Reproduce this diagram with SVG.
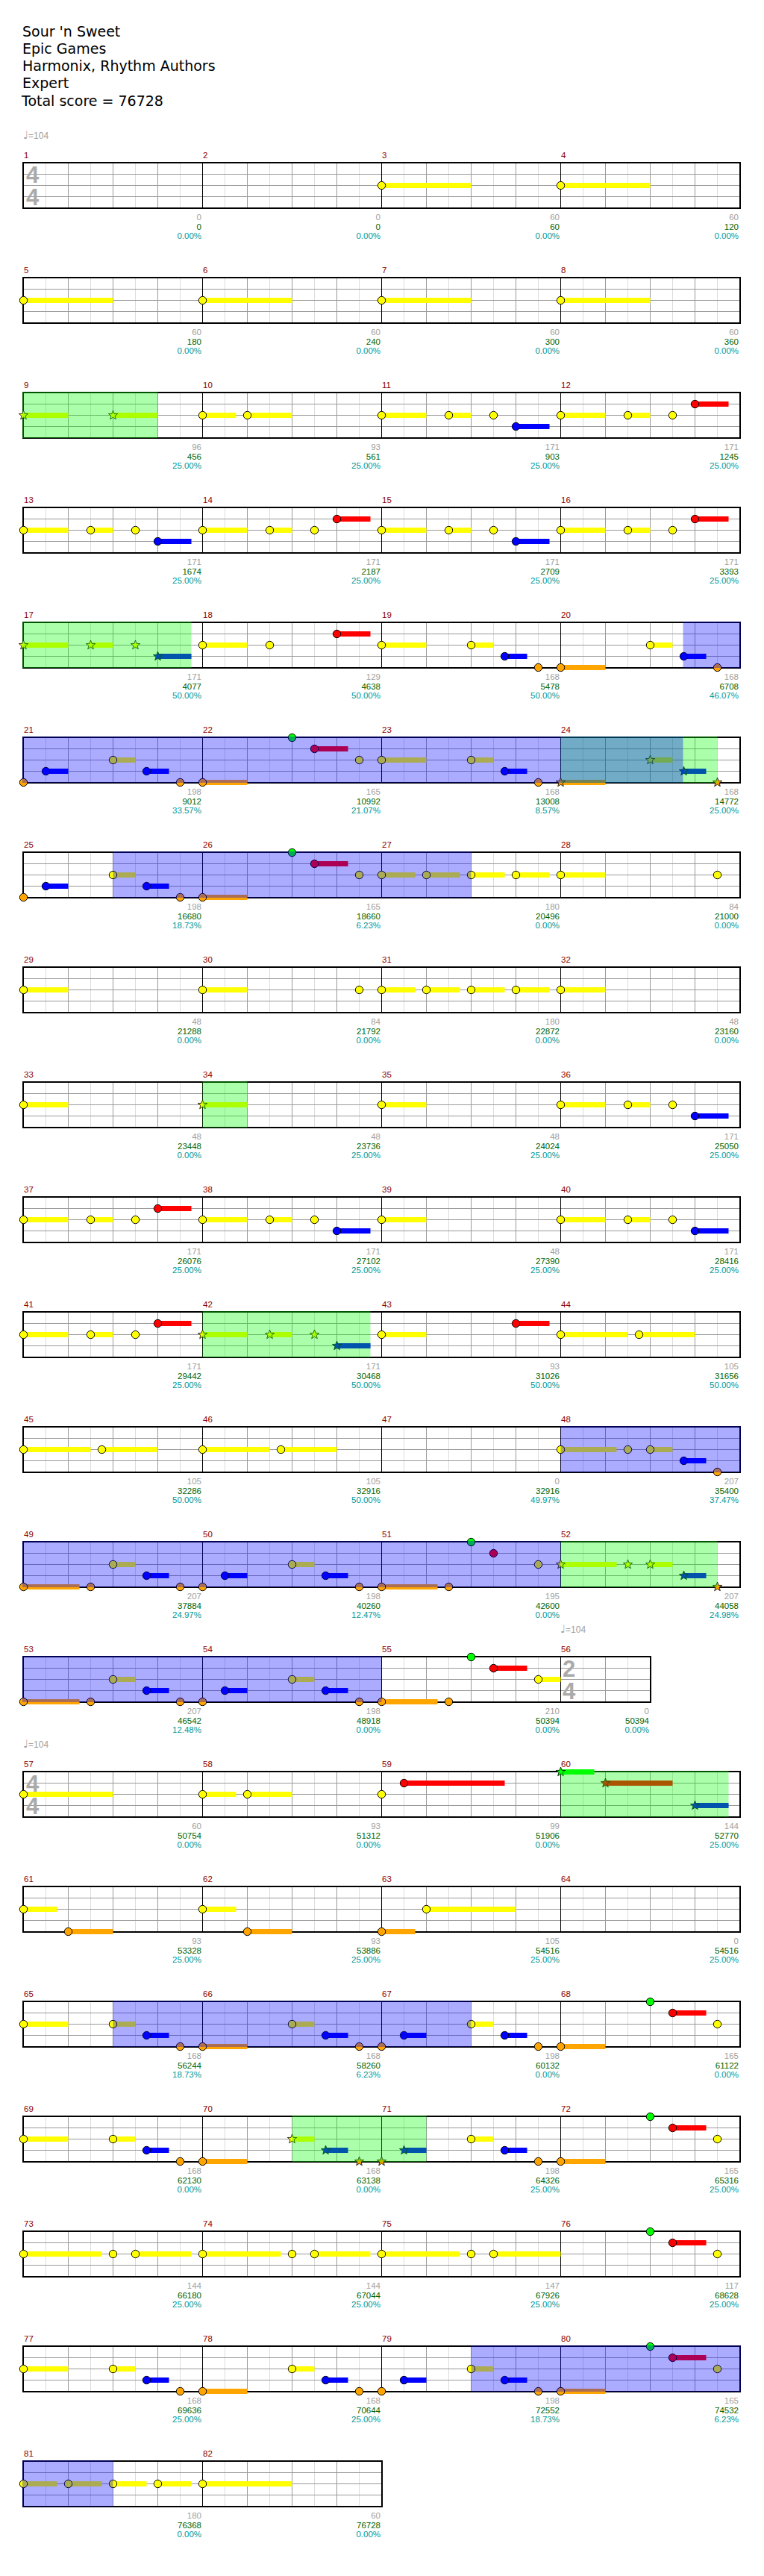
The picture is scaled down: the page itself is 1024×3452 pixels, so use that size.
<svg xmlns="http://www.w3.org/2000/svg" xmlns:xlink="http://www.w3.org/1999/xlink" width="1024" height="3452" viewBox="0 0 1024 3452">
<style>
.t{font-family:"DejaVu Sans",sans-serif;font-size:19px;fill:#000}
.mn{font-family:"Liberation Sans",Arial,sans-serif;font-size:11.5px;fill:#8b0000}
.l1,.l2,.l3{font-family:"Liberation Sans",Arial,sans-serif;font-size:11.5px;text-anchor:end}
.l1{fill:#a0a0a0}.l2{fill:#006400}.l3{fill:#009999}
.ts{font-family:"Liberation Sans",Arial,sans-serif;font-size:31px;font-weight:bold;fill:#aaa}
.tp{font-family:"Liberation Sans",Arial,sans-serif;font-size:12px;fill:#a0a0a0}
.lt{stroke:#dcdcdc;fill:none}.gr{stroke:#999;fill:none}.bk{stroke:#000;fill:none}
.bd{fill:none;stroke:#000;stroke-width:2}
.n{stroke:#000;stroke-width:1}
.y{fill:#ff0}.r{fill:#f00}.g{fill:#0f0}.b{fill:#00f}.o{fill:#ffa500}
.ov{fill:#00f;fill-opacity:0.33}.sp{fill:#0f0;fill-opacity:0.33}
</style>
<defs>
<g id="mg">
<path class="lt" d="M30,0.5V60.5M90,0.5V60.5M150,0.5V60.5M210,0.5V60.5"/>
<path class="gr" d="M60,0.5V60.5M120,0.5V60.5M180,0.5V60.5M0,15.5H240M0,30.5H240M0,45.5H240"/>
<path class="bk" d="M0,0.5V60.5"/>
</g>
<g id="hg">
<path class="lt" d="M30,0.5V60.5M90,0.5V60.5"/>
<path class="gr" d="M60,0.5V60.5M0,15.5H120M0,30.5H120M0,45.5H120"/>
<path class="bk" d="M0,0.5V60.5"/>
</g>
<g id="st4">
<use xlink:href="#mg" x="31.5"/><use xlink:href="#mg" x="271.5"/><use xlink:href="#mg" x="511.5"/><use xlink:href="#mg" x="751.5"/>
<rect class="bd" x="31" y="0" width="961" height="61"/>
</g>
<path id="star" stroke="#000" stroke-width="0.8" d="M0,-6.5L1.59,-2.18L6.18,-2.01L2.57,0.83L3.82,5.26L0,2.7L-3.82,5.26L-2.57,0.83L-6.18,-2.01L-1.59,-2.18Z"/>
</defs>
<rect x="0" y="0" width="1024" height="3452" fill="#fff"/>
<g id="title">
<text class="t" x="30" y="49">Sour 'n Sweet</text>
<text class="t" x="30" y="72">Epic Games</text>
<text class="t" x="30" y="95">Harmonix, Rhythm Authors</text>
<text class="t" x="30" y="118">Expert</text>
<text class="t" x="29" y="141.5">Total score = 76728</text>
</g>

<g id="row1" transform="translate(0,218)">
<text class="tp" x="31" y="-32"><tspan font-family="DejaVu Sans" font-size="15">♩</tspan>=104</text>
<text class="mn" x="32" y="-6.5">1</text><text class="mn" x="272" y="-6.5">2</text><text class="mn" x="512" y="-6.5">3</text><text class="mn" x="752" y="-6.5">4</text>
<use xlink:href="#st4"/>
<text class="ts" x="35" y="27">4</text><text class="ts" x="35" y="57">4</text>
<rect class="y" x="511.5" y="27" width="120" height="7"/><rect class="y" x="751.5" y="27" width="120" height="7"/>
<circle class="n y" cx="511.5" cy="30.5" r="5.2"/><circle class="n y" cx="751.5" cy="30.5" r="5.2"/>
<text class="l1" x="270" y="77">0</text><text class="l2" x="270" y="89.5">0</text><text class="l3" x="270" y="102">0.00%</text>
<text class="l1" x="510" y="77">0</text><text class="l2" x="510" y="89.5">0</text><text class="l3" x="510" y="102">0.00%</text>
<text class="l1" x="750" y="77">60</text><text class="l2" x="750" y="89.5">60</text><text class="l3" x="750" y="102">0.00%</text>
<text class="l1" x="990" y="77">60</text><text class="l2" x="990" y="89.5">120</text><text class="l3" x="990" y="102">0.00%</text>
</g>

<g id="row2" transform="translate(0,372)">
<text class="mn" x="32" y="-6.5">5</text><text class="mn" x="272" y="-6.5">6</text><text class="mn" x="512" y="-6.5">7</text><text class="mn" x="752" y="-6.5">8</text>
<use xlink:href="#st4"/>
<rect class="y" x="31.5" y="27" width="120" height="7"/><rect class="y" x="271.5" y="27" width="120" height="7"/><rect class="y" x="511.5" y="27" width="120" height="7"/><rect class="y" x="751.5" y="27" width="120" height="7"/>
<circle class="n y" cx="31.5" cy="30.5" r="5.2"/><circle class="n y" cx="271.5" cy="30.5" r="5.2"/><circle class="n y" cx="511.5" cy="30.5" r="5.2"/><circle class="n y" cx="751.5" cy="30.5" r="5.2"/>
<text class="l1" x="270" y="77">60</text><text class="l2" x="270" y="89.5">180</text><text class="l3" x="270" y="102">0.00%</text>
<text class="l1" x="510" y="77">60</text><text class="l2" x="510" y="89.5">240</text><text class="l3" x="510" y="102">0.00%</text>
<text class="l1" x="750" y="77">60</text><text class="l2" x="750" y="89.5">300</text><text class="l3" x="750" y="102">0.00%</text>
<text class="l1" x="990" y="77">60</text><text class="l2" x="990" y="89.5">360</text><text class="l3" x="990" y="102">0.00%</text>
</g>

<g id="row3" transform="translate(0,526)">
<text class="mn" x="32" y="-6.5">9</text><text class="mn" x="272" y="-6.5">10</text><text class="mn" x="512" y="-6.5">11</text><text class="mn" x="752" y="-6.5">12</text>
<use xlink:href="#st4"/>
<rect class="y" x="31.5" y="27" width="60" height="7"/><rect class="y" x="151.5" y="27" width="60" height="7"/>
<rect class="y" x="271.5" y="27" width="45" height="7"/><rect class="y" x="331.5" y="27" width="60" height="7"/>
<rect class="y" x="511.5" y="27" width="60" height="7"/><rect class="y" x="601.5" y="27" width="30" height="7"/><rect class="b" x="691.5" y="42" width="45" height="7"/>
<rect class="y" x="751.5" y="27" width="60" height="7"/><rect class="y" x="841.5" y="27" width="30" height="7"/><rect class="r" x="931.5" y="12" width="45" height="7"/>
<use xlink:href="#star" class="y" x="31.5" y="30.5"/><use xlink:href="#star" class="y" x="151.5" y="30.5"/>
<circle class="n y" cx="271.5" cy="30.5" r="5.2"/><circle class="n y" cx="331.5" cy="30.5" r="5.2"/>
<circle class="n y" cx="511.5" cy="30.5" r="5.2"/><circle class="n y" cx="601.5" cy="30.5" r="5.2"/><circle class="n y" cx="661.5" cy="30.5" r="5.2"/><circle class="n b" cx="691.5" cy="45.5" r="5.2"/>
<circle class="n y" cx="751.5" cy="30.5" r="5.2"/><circle class="n y" cx="841.5" cy="30.5" r="5.2"/><circle class="n y" cx="901.5" cy="30.5" r="5.2"/><circle class="n r" cx="931.5" cy="15.5" r="5.2"/>
<rect class="sp" x="30" y="-1" width="181.5" height="62"/>
<text class="l1" x="270" y="77">96</text><text class="l2" x="270" y="89.5">456</text><text class="l3" x="270" y="102">25.00%</text>
<text class="l1" x="510" y="77">93</text><text class="l2" x="510" y="89.5">561</text><text class="l3" x="510" y="102">25.00%</text>
<text class="l1" x="750" y="77">171</text><text class="l2" x="750" y="89.5">903</text><text class="l3" x="750" y="102">25.00%</text>
<text class="l1" x="990" y="77">171</text><text class="l2" x="990" y="89.5">1245</text><text class="l3" x="990" y="102">25.00%</text>
</g>

<g id="row4" transform="translate(0,680)">
<text class="mn" x="32" y="-6.5">13</text><text class="mn" x="272" y="-6.5">14</text><text class="mn" x="512" y="-6.5">15</text><text class="mn" x="752" y="-6.5">16</text>
<use xlink:href="#st4"/>
<rect class="y" x="31.5" y="27" width="60" height="7"/><rect class="y" x="121.5" y="27" width="30" height="7"/><rect class="b" x="211.5" y="42" width="45" height="7"/>
<rect class="y" x="271.5" y="27" width="60" height="7"/><rect class="y" x="361.5" y="27" width="30" height="7"/><rect class="r" x="451.5" y="12" width="45" height="7"/>
<rect class="y" x="511.5" y="27" width="60" height="7"/><rect class="y" x="601.5" y="27" width="30" height="7"/><rect class="b" x="691.5" y="42" width="45" height="7"/>
<rect class="y" x="751.5" y="27" width="60" height="7"/><rect class="y" x="841.5" y="27" width="30" height="7"/><rect class="r" x="931.5" y="12" width="45" height="7"/>
<circle class="n y" cx="31.5" cy="30.5" r="5.2"/><circle class="n y" cx="121.5" cy="30.5" r="5.2"/><circle class="n y" cx="181.5" cy="30.5" r="5.2"/><circle class="n b" cx="211.5" cy="45.5" r="5.2"/>
<circle class="n y" cx="271.5" cy="30.5" r="5.2"/><circle class="n y" cx="361.5" cy="30.5" r="5.2"/><circle class="n y" cx="421.5" cy="30.5" r="5.2"/><circle class="n r" cx="451.5" cy="15.5" r="5.2"/>
<circle class="n y" cx="511.5" cy="30.5" r="5.2"/><circle class="n y" cx="601.5" cy="30.5" r="5.2"/><circle class="n y" cx="661.5" cy="30.5" r="5.2"/><circle class="n b" cx="691.5" cy="45.5" r="5.2"/>
<circle class="n y" cx="751.5" cy="30.5" r="5.2"/><circle class="n y" cx="841.5" cy="30.5" r="5.2"/><circle class="n y" cx="901.5" cy="30.5" r="5.2"/><circle class="n r" cx="931.5" cy="15.5" r="5.2"/>
<text class="l1" x="270" y="77">171</text><text class="l2" x="270" y="89.5">1674</text><text class="l3" x="270" y="102">25.00%</text>
<text class="l1" x="510" y="77">171</text><text class="l2" x="510" y="89.5">2187</text><text class="l3" x="510" y="102">25.00%</text>
<text class="l1" x="750" y="77">171</text><text class="l2" x="750" y="89.5">2709</text><text class="l3" x="750" y="102">25.00%</text>
<text class="l1" x="990" y="77">171</text><text class="l2" x="990" y="89.5">3393</text><text class="l3" x="990" y="102">25.00%</text>
</g>

<g id="row5" transform="translate(0,834)">
<text class="mn" x="32" y="-6.5">17</text><text class="mn" x="272" y="-6.5">18</text><text class="mn" x="512" y="-6.5">19</text><text class="mn" x="752" y="-6.5">20</text>
<use xlink:href="#st4"/>
<rect class="y" x="31.5" y="27" width="60" height="7"/><rect class="y" x="121.5" y="27" width="30" height="7"/><rect class="b" x="211.5" y="42" width="45" height="7"/>
<rect class="y" x="271.5" y="27" width="60" height="7"/><rect class="r" x="451.5" y="12" width="45" height="7"/>
<rect class="y" x="511.5" y="27" width="60" height="7"/><rect class="y" x="631.5" y="27" width="30" height="7"/><rect class="b" x="676.5" y="42" width="30" height="7"/>
<rect class="o" x="751.5" y="57" width="60" height="7"/><rect class="y" x="871.5" y="27" width="30" height="7"/><rect class="b" x="916.5" y="42" width="30" height="7"/>
<use xlink:href="#star" class="y" x="31.5" y="30.5"/><use xlink:href="#star" class="y" x="121.5" y="30.5"/><use xlink:href="#star" class="y" x="181.5" y="30.5"/><use xlink:href="#star" class="b" x="211.5" y="45.5"/>
<circle class="n y" cx="271.5" cy="30.5" r="5.2"/><circle class="n y" cx="361.5" cy="30.5" r="5.2"/><circle class="n r" cx="451.5" cy="15.5" r="5.2"/>
<circle class="n y" cx="511.5" cy="30.5" r="5.2"/><circle class="n y" cx="631.5" cy="30.5" r="5.2"/><circle class="n b" cx="676.5" cy="45.5" r="5.2"/><circle class="n o" cx="721.5" cy="60.5" r="5.2"/>
<circle class="n o" cx="751.5" cy="60.5" r="5.2"/><circle class="n y" cx="871.5" cy="30.5" r="5.2"/><circle class="n b" cx="916.5" cy="45.5" r="5.2"/><circle class="n o" cx="961.5" cy="60.5" r="5.2"/>
<rect class="sp" x="30" y="-1" width="226.5" height="62"/>
<rect class="ov" x="915.5" y="-1" width="77.5" height="62"/>
<text class="l1" x="270" y="77">171</text><text class="l2" x="270" y="89.5">4077</text><text class="l3" x="270" y="102">50.00%</text>
<text class="l1" x="510" y="77">129</text><text class="l2" x="510" y="89.5">4638</text><text class="l3" x="510" y="102">50.00%</text>
<text class="l1" x="750" y="77">168</text><text class="l2" x="750" y="89.5">5478</text><text class="l3" x="750" y="102">50.00%</text>
<text class="l1" x="990" y="77">168</text><text class="l2" x="990" y="89.5">6708</text><text class="l3" x="990" y="102">46.07%</text>
</g>

<g id="row6" transform="translate(0,988)">
<text class="mn" x="32" y="-6.5">21</text><text class="mn" x="272" y="-6.5">22</text><text class="mn" x="512" y="-6.5">23</text><text class="mn" x="752" y="-6.5">24</text>
<use xlink:href="#st4"/>
<rect class="b" x="61.5" y="42" width="30" height="7"/><rect class="y" x="151.5" y="27" width="30" height="7"/><rect class="b" x="196.5" y="42" width="30" height="7"/>
<rect class="o" x="271.5" y="57" width="60" height="7"/><rect class="r" x="421.5" y="12" width="45" height="7"/>
<rect class="y" x="511.5" y="27" width="60" height="7"/><rect class="y" x="631.5" y="27" width="30" height="7"/><rect class="b" x="676.5" y="42" width="30" height="7"/>
<rect class="o" x="751.5" y="57" width="60" height="7"/><rect class="y" x="871.5" y="27" width="30" height="7"/><rect class="b" x="916.5" y="42" width="30" height="7"/>
<circle class="n o" cx="31.5" cy="60.5" r="5.2"/><circle class="n b" cx="61.5" cy="45.5" r="5.2"/><circle class="n y" cx="151.5" cy="30.5" r="5.2"/><circle class="n b" cx="196.5" cy="45.5" r="5.2"/><circle class="n o" cx="241.5" cy="60.5" r="5.2"/>
<circle class="n o" cx="271.5" cy="60.5" r="5.2"/><circle class="n g" cx="391.5" cy="0.5" r="5.2"/><circle class="n r" cx="421.5" cy="15.5" r="5.2"/><circle class="n y" cx="481.5" cy="30.5" r="5.2"/>
<circle class="n y" cx="511.5" cy="30.5" r="5.2"/><circle class="n y" cx="631.5" cy="30.5" r="5.2"/><circle class="n b" cx="676.5" cy="45.5" r="5.2"/><circle class="n o" cx="721.5" cy="60.5" r="5.2"/>
<use xlink:href="#star" class="o" x="751.5" y="60.5"/><use xlink:href="#star" class="y" x="871.5" y="30.5"/><use xlink:href="#star" class="b" x="916.5" y="45.5"/><use xlink:href="#star" class="o" x="961.5" y="60.5"/>
<rect class="sp" x="751.5" y="-1" width="210" height="62"/>
<rect class="ov" x="30" y="-1" width="885.5" height="62"/>
<text class="l1" x="270" y="77">198</text><text class="l2" x="270" y="89.5">9012</text><text class="l3" x="270" y="102">33.57%</text>
<text class="l1" x="510" y="77">165</text><text class="l2" x="510" y="89.5">10992</text><text class="l3" x="510" y="102">21.07%</text>
<text class="l1" x="750" y="77">168</text><text class="l2" x="750" y="89.5">13008</text><text class="l3" x="750" y="102">8.57%</text>
<text class="l1" x="990" y="77">168</text><text class="l2" x="990" y="89.5">14772</text><text class="l3" x="990" y="102">25.00%</text>
</g>

<g id="row7" transform="translate(0,1142)">
<text class="mn" x="32" y="-6.5">25</text><text class="mn" x="272" y="-6.5">26</text><text class="mn" x="512" y="-6.5">27</text><text class="mn" x="752" y="-6.5">28</text>
<use xlink:href="#st4"/>
<rect class="b" x="61.5" y="42" width="30" height="7"/><rect class="y" x="151.5" y="27" width="30" height="7"/><rect class="b" x="196.5" y="42" width="30" height="7"/>
<rect class="o" x="271.5" y="57" width="60" height="7"/><rect class="r" x="421.5" y="12" width="45" height="7"/>
<rect class="y" x="511.5" y="27" width="45" height="7"/><rect class="y" x="571.5" y="27" width="45" height="7"/><rect class="y" x="631.5" y="27" width="45" height="7"/><rect class="y" x="691.5" y="27" width="45" height="7"/>
<rect class="y" x="751.5" y="27" width="60" height="7"/>
<circle class="n o" cx="31.5" cy="60.5" r="5.2"/><circle class="n b" cx="61.5" cy="45.5" r="5.2"/><circle class="n y" cx="151.5" cy="30.5" r="5.2"/><circle class="n b" cx="196.5" cy="45.5" r="5.2"/><circle class="n o" cx="241.5" cy="60.5" r="5.2"/>
<circle class="n o" cx="271.5" cy="60.5" r="5.2"/><circle class="n g" cx="391.5" cy="0.5" r="5.2"/><circle class="n r" cx="421.5" cy="15.5" r="5.2"/><circle class="n y" cx="481.5" cy="30.5" r="5.2"/>
<circle class="n y" cx="511.5" cy="30.5" r="5.2"/><circle class="n y" cx="571.5" cy="30.5" r="5.2"/><circle class="n y" cx="631.5" cy="30.5" r="5.2"/><circle class="n y" cx="691.5" cy="30.5" r="5.2"/>
<circle class="n y" cx="751.5" cy="30.5" r="5.2"/><circle class="n y" cx="961.5" cy="30.5" r="5.2"/>
<rect class="ov" x="151.5" y="-1" width="480" height="62"/>
<text class="l1" x="270" y="77">198</text><text class="l2" x="270" y="89.5">16680</text><text class="l3" x="270" y="102">18.73%</text>
<text class="l1" x="510" y="77">165</text><text class="l2" x="510" y="89.5">18660</text><text class="l3" x="510" y="102">6.23%</text>
<text class="l1" x="750" y="77">180</text><text class="l2" x="750" y="89.5">20496</text><text class="l3" x="750" y="102">0.00%</text>
<text class="l1" x="990" y="77">84</text><text class="l2" x="990" y="89.5">21000</text><text class="l3" x="990" y="102">0.00%</text>
</g>

<g id="row8" transform="translate(0,1296)">
<text class="mn" x="32" y="-6.5">29</text><text class="mn" x="272" y="-6.5">30</text><text class="mn" x="512" y="-6.5">31</text><text class="mn" x="752" y="-6.5">32</text>
<use xlink:href="#st4"/>
<rect class="y" x="31.5" y="27" width="60" height="7"/><rect class="y" x="271.5" y="27" width="60" height="7"/>
<rect class="y" x="511.5" y="27" width="45" height="7"/><rect class="y" x="571.5" y="27" width="45" height="7"/><rect class="y" x="631.5" y="27" width="45" height="7"/><rect class="y" x="691.5" y="27" width="45" height="7"/><rect class="y" x="751.5" y="27" width="60" height="7"/>
<circle class="n y" cx="31.5" cy="30.5" r="5.2"/><circle class="n y" cx="271.5" cy="30.5" r="5.2"/><circle class="n y" cx="481.5" cy="30.5" r="5.2"/>
<circle class="n y" cx="511.5" cy="30.5" r="5.2"/><circle class="n y" cx="571.5" cy="30.5" r="5.2"/><circle class="n y" cx="631.5" cy="30.5" r="5.2"/><circle class="n y" cx="691.5" cy="30.5" r="5.2"/><circle class="n y" cx="751.5" cy="30.5" r="5.2"/>
<text class="l1" x="270" y="77">48</text><text class="l2" x="270" y="89.5">21288</text><text class="l3" x="270" y="102">0.00%</text>
<text class="l1" x="510" y="77">84</text><text class="l2" x="510" y="89.5">21792</text><text class="l3" x="510" y="102">0.00%</text>
<text class="l1" x="750" y="77">180</text><text class="l2" x="750" y="89.5">22872</text><text class="l3" x="750" y="102">0.00%</text>
<text class="l1" x="990" y="77">48</text><text class="l2" x="990" y="89.5">23160</text><text class="l3" x="990" y="102">0.00%</text>
</g>

<g id="row9" transform="translate(0,1450)">
<text class="mn" x="32" y="-6.5">33</text><text class="mn" x="272" y="-6.5">34</text><text class="mn" x="512" y="-6.5">35</text><text class="mn" x="752" y="-6.5">36</text>
<use xlink:href="#st4"/>
<rect class="y" x="31.5" y="27" width="60" height="7"/><rect class="y" x="271.5" y="27" width="60" height="7"/><rect class="y" x="511.5" y="27" width="60" height="7"/>
<rect class="y" x="751.5" y="27" width="60" height="7"/><rect class="y" x="841.5" y="27" width="30" height="7"/><rect class="b" x="931.5" y="42" width="45" height="7"/>
<circle class="n y" cx="31.5" cy="30.5" r="5.2"/><use xlink:href="#star" class="y" x="271.5" y="30.5"/><circle class="n y" cx="511.5" cy="30.5" r="5.2"/>
<circle class="n y" cx="751.5" cy="30.5" r="5.2"/><circle class="n y" cx="841.5" cy="30.5" r="5.2"/><circle class="n y" cx="901.5" cy="30.5" r="5.2"/><circle class="n b" cx="931.5" cy="45.5" r="5.2"/>
<rect class="sp" x="271.5" y="-1" width="60" height="62"/>
<text class="l1" x="270" y="77">48</text><text class="l2" x="270" y="89.5">23448</text><text class="l3" x="270" y="102">0.00%</text>
<text class="l1" x="510" y="77">48</text><text class="l2" x="510" y="89.5">23736</text><text class="l3" x="510" y="102">25.00%</text>
<text class="l1" x="750" y="77">48</text><text class="l2" x="750" y="89.5">24024</text><text class="l3" x="750" y="102">25.00%</text>
<text class="l1" x="990" y="77">171</text><text class="l2" x="990" y="89.5">25050</text><text class="l3" x="990" y="102">25.00%</text>
</g>

<g id="row10" transform="translate(0,1604)">
<text class="mn" x="32" y="-6.5">37</text><text class="mn" x="272" y="-6.5">38</text><text class="mn" x="512" y="-6.5">39</text><text class="mn" x="752" y="-6.5">40</text>
<use xlink:href="#st4"/>
<rect class="y" x="31.5" y="27" width="60" height="7"/><rect class="y" x="121.5" y="27" width="30" height="7"/><rect class="r" x="211.5" y="12" width="45" height="7"/>
<rect class="y" x="271.5" y="27" width="60" height="7"/><rect class="y" x="361.5" y="27" width="30" height="7"/><rect class="b" x="451.5" y="42" width="45" height="7"/>
<rect class="y" x="511.5" y="27" width="60" height="7"/>
<rect class="y" x="751.5" y="27" width="60" height="7"/><rect class="y" x="841.5" y="27" width="30" height="7"/><rect class="b" x="931.5" y="42" width="45" height="7"/>
<circle class="n y" cx="31.5" cy="30.5" r="5.2"/><circle class="n y" cx="121.5" cy="30.5" r="5.2"/><circle class="n y" cx="181.5" cy="30.5" r="5.2"/><circle class="n r" cx="211.5" cy="15.5" r="5.2"/>
<circle class="n y" cx="271.5" cy="30.5" r="5.2"/><circle class="n y" cx="361.5" cy="30.5" r="5.2"/><circle class="n y" cx="421.5" cy="30.5" r="5.2"/><circle class="n b" cx="451.5" cy="45.5" r="5.2"/>
<circle class="n y" cx="511.5" cy="30.5" r="5.2"/>
<circle class="n y" cx="751.5" cy="30.5" r="5.2"/><circle class="n y" cx="841.5" cy="30.5" r="5.2"/><circle class="n y" cx="901.5" cy="30.5" r="5.2"/><circle class="n b" cx="931.5" cy="45.5" r="5.2"/>
<text class="l1" x="270" y="77">171</text><text class="l2" x="270" y="89.5">26076</text><text class="l3" x="270" y="102">25.00%</text>
<text class="l1" x="510" y="77">171</text><text class="l2" x="510" y="89.5">27102</text><text class="l3" x="510" y="102">25.00%</text>
<text class="l1" x="750" y="77">48</text><text class="l2" x="750" y="89.5">27390</text><text class="l3" x="750" y="102">25.00%</text>
<text class="l1" x="990" y="77">171</text><text class="l2" x="990" y="89.5">28416</text><text class="l3" x="990" y="102">25.00%</text>
</g>

<g id="row11" transform="translate(0,1758)">
<text class="mn" x="32" y="-6.5">41</text><text class="mn" x="272" y="-6.5">42</text><text class="mn" x="512" y="-6.5">43</text><text class="mn" x="752" y="-6.5">44</text>
<use xlink:href="#st4"/>
<rect class="y" x="31.5" y="27" width="60" height="7"/><rect class="y" x="121.5" y="27" width="30" height="7"/><rect class="r" x="211.5" y="12" width="45" height="7"/>
<rect class="y" x="271.5" y="27" width="60" height="7"/><rect class="y" x="361.5" y="27" width="30" height="7"/><rect class="b" x="451.5" y="42" width="45" height="7"/>
<rect class="y" x="511.5" y="27" width="60" height="7"/><rect class="r" x="691.5" y="12" width="45" height="7"/>
<rect class="y" x="751.5" y="27" width="90" height="7"/><rect class="y" x="856.5" y="27" width="75" height="7"/>
<circle class="n y" cx="31.5" cy="30.5" r="5.2"/><circle class="n y" cx="121.5" cy="30.5" r="5.2"/><circle class="n y" cx="181.5" cy="30.5" r="5.2"/><circle class="n r" cx="211.5" cy="15.5" r="5.2"/>
<use xlink:href="#star" class="y" x="271.5" y="30.5"/><use xlink:href="#star" class="y" x="361.5" y="30.5"/><use xlink:href="#star" class="y" x="421.5" y="30.5"/><use xlink:href="#star" class="b" x="451.5" y="45.5"/>
<circle class="n y" cx="511.5" cy="30.5" r="5.2"/><circle class="n r" cx="691.5" cy="15.5" r="5.2"/>
<circle class="n y" cx="751.5" cy="30.5" r="5.2"/><circle class="n y" cx="856.5" cy="30.5" r="5.2"/>
<rect class="sp" x="271.5" y="-1" width="225" height="62"/>
<text class="l1" x="270" y="77">171</text><text class="l2" x="270" y="89.5">29442</text><text class="l3" x="270" y="102">25.00%</text>
<text class="l1" x="510" y="77">171</text><text class="l2" x="510" y="89.5">30468</text><text class="l3" x="510" y="102">50.00%</text>
<text class="l1" x="750" y="77">93</text><text class="l2" x="750" y="89.5">31026</text><text class="l3" x="750" y="102">50.00%</text>
<text class="l1" x="990" y="77">105</text><text class="l2" x="990" y="89.5">31656</text><text class="l3" x="990" y="102">50.00%</text>
</g>

<g id="row12" transform="translate(0,1912)">
<text class="mn" x="32" y="-6.5">45</text><text class="mn" x="272" y="-6.5">46</text><text class="mn" x="512" y="-6.5">47</text><text class="mn" x="752" y="-6.5">48</text>
<use xlink:href="#st4"/>
<rect class="y" x="31.5" y="27" width="90" height="7"/><rect class="y" x="136.5" y="27" width="75" height="7"/>
<rect class="y" x="271.5" y="27" width="90" height="7"/><rect class="y" x="376.5" y="27" width="75" height="7"/>
<rect class="y" x="751.5" y="27" width="75" height="7"/><rect class="y" x="871.5" y="27" width="30" height="7"/><rect class="b" x="916.5" y="42" width="30" height="7"/>
<circle class="n y" cx="31.5" cy="30.5" r="5.2"/><circle class="n y" cx="136.5" cy="30.5" r="5.2"/>
<circle class="n y" cx="271.5" cy="30.5" r="5.2"/><circle class="n y" cx="376.5" cy="30.5" r="5.2"/>
<circle class="n y" cx="751.5" cy="30.5" r="5.2"/><circle class="n y" cx="841.5" cy="30.5" r="5.2"/><circle class="n y" cx="871.5" cy="30.5" r="5.2"/><circle class="n b" cx="916.5" cy="45.5" r="5.2"/><circle class="n o" cx="961.5" cy="60.5" r="5.2"/>
<rect class="ov" x="751.5" y="-1" width="241.5" height="62"/>
<text class="l1" x="270" y="77">105</text><text class="l2" x="270" y="89.5">32286</text><text class="l3" x="270" y="102">50.00%</text>
<text class="l1" x="510" y="77">105</text><text class="l2" x="510" y="89.5">32916</text><text class="l3" x="510" y="102">50.00%</text>
<text class="l1" x="750" y="77">0</text><text class="l2" x="750" y="89.5">32916</text><text class="l3" x="750" y="102">49.97%</text>
<text class="l1" x="990" y="77">207</text><text class="l2" x="990" y="89.5">35400</text><text class="l3" x="990" y="102">37.47%</text>
</g>

<g id="row13" transform="translate(0,2066)">
<text class="mn" x="32" y="-6.5">49</text><text class="mn" x="272" y="-6.5">50</text><text class="mn" x="512" y="-6.5">51</text><text class="mn" x="752" y="-6.5">52</text>
<use xlink:href="#st4"/>
<rect class="o" x="31.5" y="57" width="75" height="7"/><rect class="y" x="151.5" y="27" width="30" height="7"/><rect class="b" x="196.5" y="42" width="30" height="7"/>
<rect class="b" x="301.5" y="42" width="30" height="7"/><rect class="y" x="391.5" y="27" width="30" height="7"/><rect class="b" x="436.5" y="42" width="30" height="7"/>
<rect class="o" x="511.5" y="57" width="75" height="7"/>
<rect class="y" x="751.5" y="27" width="75" height="7"/><rect class="y" x="871.5" y="27" width="30" height="7"/><rect class="b" x="916.5" y="42" width="30" height="7"/>
<circle class="n o" cx="31.5" cy="60.5" r="5.2"/><circle class="n o" cx="121.5" cy="60.5" r="5.2"/><circle class="n y" cx="151.5" cy="30.5" r="5.2"/><circle class="n b" cx="196.5" cy="45.5" r="5.2"/><circle class="n o" cx="241.5" cy="60.5" r="5.2"/>
<circle class="n o" cx="271.5" cy="60.5" r="5.2"/><circle class="n b" cx="301.5" cy="45.5" r="5.2"/><circle class="n y" cx="391.5" cy="30.5" r="5.2"/><circle class="n b" cx="436.5" cy="45.5" r="5.2"/><circle class="n o" cx="481.5" cy="60.5" r="5.2"/>
<circle class="n o" cx="511.5" cy="60.5" r="5.2"/><circle class="n o" cx="601.5" cy="60.5" r="5.2"/><circle class="n g" cx="631.5" cy="0.5" r="5.2"/><circle class="n r" cx="661.5" cy="15.5" r="5.2"/><circle class="n y" cx="721.5" cy="30.5" r="5.2"/>
<use xlink:href="#star" class="y" x="751.5" y="30.5"/><use xlink:href="#star" class="y" x="841.5" y="30.5"/><use xlink:href="#star" class="y" x="871.5" y="30.5"/><use xlink:href="#star" class="b" x="916.5" y="45.5"/><use xlink:href="#star" class="o" x="961.5" y="60.5"/>
<rect class="sp" x="751.5" y="-1" width="210" height="62"/>
<rect class="ov" x="30" y="-1" width="721.5" height="62"/>
<text class="l1" x="270" y="77">207</text><text class="l2" x="270" y="89.5">37884</text><text class="l3" x="270" y="102">24.97%</text>
<text class="l1" x="510" y="77">198</text><text class="l2" x="510" y="89.5">40260</text><text class="l3" x="510" y="102">12.47%</text>
<text class="l1" x="750" y="77">195</text><text class="l2" x="750" y="89.5">42600</text><text class="l3" x="750" y="102">0.00%</text>
<text class="l1" x="990" y="77">207</text><text class="l2" x="990" y="89.5">44058</text><text class="l3" x="990" y="102">24.98%</text>
</g>

<g id="row14" transform="translate(0,2220)">
<text class="tp" x="751" y="-32"><tspan font-family="DejaVu Sans" font-size="15">♩</tspan>=104</text>
<text class="mn" x="32" y="-6.5">53</text><text class="mn" x="272" y="-6.5">54</text><text class="mn" x="512" y="-6.5">55</text><text class="mn" x="752" y="-6.5">56</text>
<use xlink:href="#mg" x="31.5"/><use xlink:href="#mg" x="271.5"/><use xlink:href="#mg" x="511.5"/><use xlink:href="#hg" x="751.5"/>
<rect class="bd" x="31" y="0" width="841" height="61"/>
<text class="ts" x="754" y="27">2</text><text class="ts" x="754" y="57">4</text>
<rect class="o" x="31.5" y="57" width="75" height="7"/><rect class="y" x="151.5" y="27" width="30" height="7"/><rect class="b" x="196.5" y="42" width="30" height="7"/>
<rect class="b" x="301.5" y="42" width="30" height="7"/><rect class="y" x="391.5" y="27" width="30" height="7"/><rect class="b" x="436.5" y="42" width="30" height="7"/>
<rect class="o" x="511.5" y="57" width="75" height="7"/><rect class="r" x="661.5" y="12" width="45" height="7"/><rect class="y" x="721.5" y="27" width="30" height="7"/>
<circle class="n o" cx="31.5" cy="60.5" r="5.2"/><circle class="n o" cx="121.5" cy="60.5" r="5.2"/><circle class="n y" cx="151.5" cy="30.5" r="5.2"/><circle class="n b" cx="196.5" cy="45.5" r="5.2"/><circle class="n o" cx="241.5" cy="60.5" r="5.2"/>
<circle class="n o" cx="271.5" cy="60.5" r="5.2"/><circle class="n b" cx="301.5" cy="45.5" r="5.2"/><circle class="n y" cx="391.5" cy="30.5" r="5.2"/><circle class="n b" cx="436.5" cy="45.5" r="5.2"/><circle class="n o" cx="481.5" cy="60.5" r="5.2"/>
<circle class="n o" cx="511.5" cy="60.5" r="5.2"/><circle class="n o" cx="601.5" cy="60.5" r="5.2"/><circle class="n g" cx="631.5" cy="0.5" r="5.2"/><circle class="n r" cx="661.5" cy="15.5" r="5.2"/><circle class="n y" cx="721.5" cy="30.5" r="5.2"/>
<rect class="ov" x="30" y="-1" width="481.5" height="62"/>
<text class="l1" x="270" y="77">207</text><text class="l2" x="270" y="89.5">46542</text><text class="l3" x="270" y="102">12.48%</text>
<text class="l1" x="510" y="77">198</text><text class="l2" x="510" y="89.5">48918</text><text class="l3" x="510" y="102">0.00%</text>
<text class="l1" x="750" y="77">210</text><text class="l2" x="750" y="89.5">50394</text><text class="l3" x="750" y="102">0.00%</text>
<text class="l1" x="870" y="77">0</text><text class="l2" x="870" y="89.5">50394</text><text class="l3" x="870" y="102">0.00%</text>
</g>

<g id="row15" transform="translate(0,2374)">
<text class="tp" x="31" y="-32"><tspan font-family="DejaVu Sans" font-size="15">♩</tspan>=104</text>
<text class="mn" x="32" y="-6.5">57</text><text class="mn" x="272" y="-6.5">58</text><text class="mn" x="512" y="-6.5">59</text><text class="mn" x="752" y="-6.5">60</text>
<use xlink:href="#st4"/>
<text class="ts" x="35" y="27">4</text><text class="ts" x="35" y="57">4</text>
<rect class="y" x="31.5" y="27" width="120" height="7"/><rect class="y" x="271.5" y="27" width="45" height="7"/><rect class="y" x="331.5" y="27" width="60" height="7"/>
<rect class="r" x="541.5" y="12" width="135" height="7"/>
<rect class="g" x="751.5" y="-3" width="45" height="7"/><rect class="r" x="811.5" y="12" width="90" height="7"/><rect class="b" x="931.5" y="42" width="45" height="7"/>
<circle class="n y" cx="31.5" cy="30.5" r="5.2"/><circle class="n y" cx="271.5" cy="30.5" r="5.2"/><circle class="n y" cx="331.5" cy="30.5" r="5.2"/>
<circle class="n y" cx="511.5" cy="30.5" r="5.2"/><circle class="n r" cx="541.5" cy="15.5" r="5.2"/>
<use xlink:href="#star" class="g" x="751.5" y="0.5"/><use xlink:href="#star" class="r" x="811.5" y="15.5"/><use xlink:href="#star" class="b" x="931.5" y="45.5"/>
<rect class="sp" x="751.5" y="-1" width="225" height="62"/>
<text class="l1" x="270" y="77">60</text><text class="l2" x="270" y="89.5">50754</text><text class="l3" x="270" y="102">0.00%</text>
<text class="l1" x="510" y="77">93</text><text class="l2" x="510" y="89.5">51312</text><text class="l3" x="510" y="102">0.00%</text>
<text class="l1" x="750" y="77">99</text><text class="l2" x="750" y="89.5">51906</text><text class="l3" x="750" y="102">0.00%</text>
<text class="l1" x="990" y="77">144</text><text class="l2" x="990" y="89.5">52770</text><text class="l3" x="990" y="102">25.00%</text>
</g>

<g id="row16" transform="translate(0,2528)">
<text class="mn" x="32" y="-6.5">61</text><text class="mn" x="272" y="-6.5">62</text><text class="mn" x="512" y="-6.5">63</text><text class="mn" x="752" y="-6.5">64</text>
<use xlink:href="#st4"/>
<rect class="y" x="31.5" y="27" width="45" height="7"/><rect class="o" x="91.5" y="57" width="60" height="7"/>
<rect class="y" x="271.5" y="27" width="45" height="7"/><rect class="o" x="331.5" y="57" width="60" height="7"/>
<rect class="o" x="511.5" y="57" width="45" height="7"/><rect class="y" x="571.5" y="27" width="120" height="7"/>
<circle class="n y" cx="31.5" cy="30.5" r="5.2"/><circle class="n o" cx="91.5" cy="60.5" r="5.2"/>
<circle class="n y" cx="271.5" cy="30.5" r="5.2"/><circle class="n o" cx="331.5" cy="60.5" r="5.2"/>
<circle class="n o" cx="511.5" cy="60.5" r="5.2"/><circle class="n y" cx="571.5" cy="30.5" r="5.2"/>
<text class="l1" x="270" y="77">93</text><text class="l2" x="270" y="89.5">53328</text><text class="l3" x="270" y="102">25.00%</text>
<text class="l1" x="510" y="77">93</text><text class="l2" x="510" y="89.5">53886</text><text class="l3" x="510" y="102">25.00%</text>
<text class="l1" x="750" y="77">105</text><text class="l2" x="750" y="89.5">54516</text><text class="l3" x="750" y="102">25.00%</text>
<text class="l1" x="990" y="77">0</text><text class="l2" x="990" y="89.5">54516</text><text class="l3" x="990" y="102">25.00%</text>
</g>

<g id="row17" transform="translate(0,2682)">
<text class="mn" x="32" y="-6.5">65</text><text class="mn" x="272" y="-6.5">66</text><text class="mn" x="512" y="-6.5">67</text><text class="mn" x="752" y="-6.5">68</text>
<use xlink:href="#st4"/>
<rect class="y" x="31.5" y="27" width="60" height="7"/><rect class="y" x="151.5" y="27" width="30" height="7"/><rect class="b" x="196.5" y="42" width="30" height="7"/>
<rect class="o" x="271.5" y="57" width="60" height="7"/><rect class="y" x="391.5" y="27" width="30" height="7"/><rect class="b" x="436.5" y="42" width="30" height="7"/>
<rect class="b" x="541.5" y="42" width="30" height="7"/><rect class="y" x="631.5" y="27" width="30" height="7"/><rect class="b" x="676.5" y="42" width="30" height="7"/>
<rect class="o" x="751.5" y="57" width="60" height="7"/><rect class="r" x="901.5" y="12" width="45" height="7"/>
<circle class="n y" cx="31.5" cy="30.5" r="5.2"/><circle class="n y" cx="151.5" cy="30.5" r="5.2"/><circle class="n b" cx="196.5" cy="45.5" r="5.2"/><circle class="n o" cx="241.5" cy="60.5" r="5.2"/>
<circle class="n o" cx="271.5" cy="60.5" r="5.2"/><circle class="n y" cx="391.5" cy="30.5" r="5.2"/><circle class="n b" cx="436.5" cy="45.5" r="5.2"/><circle class="n o" cx="481.5" cy="60.5" r="5.2"/>
<circle class="n o" cx="511.5" cy="60.5" r="5.2"/><circle class="n b" cx="541.5" cy="45.5" r="5.2"/><circle class="n y" cx="631.5" cy="30.5" r="5.2"/><circle class="n b" cx="676.5" cy="45.5" r="5.2"/><circle class="n o" cx="721.5" cy="60.5" r="5.2"/>
<circle class="n o" cx="751.5" cy="60.5" r="5.2"/><circle class="n g" cx="871.5" cy="0.5" r="5.2"/><circle class="n r" cx="901.5" cy="15.5" r="5.2"/><circle class="n y" cx="961.5" cy="30.5" r="5.2"/>
<rect class="ov" x="151.5" y="-1" width="480" height="62"/>
<text class="l1" x="270" y="77">168</text><text class="l2" x="270" y="89.5">56244</text><text class="l3" x="270" y="102">18.73%</text>
<text class="l1" x="510" y="77">168</text><text class="l2" x="510" y="89.5">58260</text><text class="l3" x="510" y="102">6.23%</text>
<text class="l1" x="750" y="77">198</text><text class="l2" x="750" y="89.5">60132</text><text class="l3" x="750" y="102">0.00%</text>
<text class="l1" x="990" y="77">165</text><text class="l2" x="990" y="89.5">61122</text><text class="l3" x="990" y="102">0.00%</text>
</g>

<g id="row18" transform="translate(0,2836)">
<text class="mn" x="32" y="-6.5">69</text><text class="mn" x="272" y="-6.5">70</text><text class="mn" x="512" y="-6.5">71</text><text class="mn" x="752" y="-6.5">72</text>
<use xlink:href="#st4"/>
<rect class="y" x="31.5" y="27" width="60" height="7"/><rect class="y" x="151.5" y="27" width="30" height="7"/><rect class="b" x="196.5" y="42" width="30" height="7"/>
<rect class="o" x="271.5" y="57" width="60" height="7"/><rect class="y" x="391.5" y="27" width="30" height="7"/><rect class="b" x="436.5" y="42" width="30" height="7"/>
<rect class="b" x="541.5" y="42" width="30" height="7"/><rect class="y" x="631.5" y="27" width="30" height="7"/><rect class="b" x="676.5" y="42" width="30" height="7"/>
<rect class="o" x="751.5" y="57" width="60" height="7"/><rect class="r" x="901.5" y="12" width="45" height="7"/>
<circle class="n y" cx="31.5" cy="30.5" r="5.2"/><circle class="n y" cx="151.5" cy="30.5" r="5.2"/><circle class="n b" cx="196.5" cy="45.5" r="5.2"/><circle class="n o" cx="241.5" cy="60.5" r="5.2"/>
<circle class="n o" cx="271.5" cy="60.5" r="5.2"/><use xlink:href="#star" class="y" x="391.5" y="30.5"/><use xlink:href="#star" class="b" x="436.5" y="45.5"/><use xlink:href="#star" class="o" x="481.5" y="60.5"/>
<use xlink:href="#star" class="o" x="511.5" y="60.5"/><use xlink:href="#star" class="b" x="541.5" y="45.5"/><circle class="n y" cx="631.5" cy="30.5" r="5.2"/><circle class="n b" cx="676.5" cy="45.5" r="5.2"/><circle class="n o" cx="721.5" cy="60.5" r="5.2"/>
<circle class="n o" cx="751.5" cy="60.5" r="5.2"/><circle class="n g" cx="871.5" cy="0.5" r="5.2"/><circle class="n r" cx="901.5" cy="15.5" r="5.2"/><circle class="n y" cx="961.5" cy="30.5" r="5.2"/>
<rect class="sp" x="391.5" y="-1" width="180" height="62"/>
<text class="l1" x="270" y="77">168</text><text class="l2" x="270" y="89.5">62130</text><text class="l3" x="270" y="102">0.00%</text>
<text class="l1" x="510" y="77">168</text><text class="l2" x="510" y="89.5">63138</text><text class="l3" x="510" y="102">0.00%</text>
<text class="l1" x="750" y="77">198</text><text class="l2" x="750" y="89.5">64326</text><text class="l3" x="750" y="102">25.00%</text>
<text class="l1" x="990" y="77">165</text><text class="l2" x="990" y="89.5">65316</text><text class="l3" x="990" y="102">25.00%</text>
</g>

<g id="row19" transform="translate(0,2990)">
<text class="mn" x="32" y="-6.5">73</text><text class="mn" x="272" y="-6.5">74</text><text class="mn" x="512" y="-6.5">75</text><text class="mn" x="752" y="-6.5">76</text>
<use xlink:href="#st4"/>
<rect class="y" x="31.5" y="27" width="105" height="7"/><rect class="y" x="181.5" y="27" width="75" height="7"/>
<rect class="y" x="271.5" y="27" width="105" height="7"/><rect class="y" x="421.5" y="27" width="75" height="7"/>
<rect class="y" x="511.5" y="27" width="105" height="7"/><rect class="y" x="661.5" y="27" width="90" height="7"/>
<rect class="r" x="901.5" y="12" width="45" height="7"/>
<circle class="n y" cx="31.5" cy="30.5" r="5.2"/><circle class="n y" cx="151.5" cy="30.5" r="5.2"/><circle class="n y" cx="181.5" cy="30.5" r="5.2"/>
<circle class="n y" cx="271.5" cy="30.5" r="5.2"/><circle class="n y" cx="391.5" cy="30.5" r="5.2"/><circle class="n y" cx="421.5" cy="30.5" r="5.2"/>
<circle class="n y" cx="511.5" cy="30.5" r="5.2"/><circle class="n y" cx="631.5" cy="30.5" r="5.2"/><circle class="n y" cx="661.5" cy="30.5" r="5.2"/>
<circle class="n g" cx="871.5" cy="0.5" r="5.2"/><circle class="n r" cx="901.5" cy="15.5" r="5.2"/><circle class="n y" cx="961.5" cy="30.5" r="5.2"/>
<text class="l1" x="270" y="77">144</text><text class="l2" x="270" y="89.5">66180</text><text class="l3" x="270" y="102">25.00%</text>
<text class="l1" x="510" y="77">144</text><text class="l2" x="510" y="89.5">67044</text><text class="l3" x="510" y="102">25.00%</text>
<text class="l1" x="750" y="77">147</text><text class="l2" x="750" y="89.5">67926</text><text class="l3" x="750" y="102">25.00%</text>
<text class="l1" x="990" y="77">117</text><text class="l2" x="990" y="89.5">68628</text><text class="l3" x="990" y="102">25.00%</text>
</g>

<g id="row20" transform="translate(0,3144)">
<text class="mn" x="32" y="-6.5">77</text><text class="mn" x="272" y="-6.5">78</text><text class="mn" x="512" y="-6.5">79</text><text class="mn" x="752" y="-6.5">80</text>
<use xlink:href="#st4"/>
<rect class="y" x="31.5" y="27" width="60" height="7"/><rect class="y" x="151.5" y="27" width="30" height="7"/><rect class="b" x="196.5" y="42" width="30" height="7"/>
<rect class="o" x="271.5" y="57" width="60" height="7"/><rect class="y" x="391.5" y="27" width="30" height="7"/><rect class="b" x="436.5" y="42" width="30" height="7"/>
<rect class="b" x="541.5" y="42" width="30" height="7"/><rect class="y" x="631.5" y="27" width="30" height="7"/><rect class="b" x="676.5" y="42" width="30" height="7"/>
<rect class="o" x="751.5" y="57" width="60" height="7"/><rect class="r" x="901.5" y="12" width="45" height="7"/>
<circle class="n y" cx="31.5" cy="30.5" r="5.2"/><circle class="n y" cx="151.5" cy="30.5" r="5.2"/><circle class="n b" cx="196.5" cy="45.5" r="5.2"/><circle class="n o" cx="241.5" cy="60.5" r="5.2"/>
<circle class="n o" cx="271.5" cy="60.5" r="5.2"/><circle class="n y" cx="391.5" cy="30.5" r="5.2"/><circle class="n b" cx="436.5" cy="45.5" r="5.2"/><circle class="n o" cx="481.5" cy="60.5" r="5.2"/>
<circle class="n o" cx="511.5" cy="60.5" r="5.2"/><circle class="n b" cx="541.5" cy="45.5" r="5.2"/><circle class="n y" cx="631.5" cy="30.5" r="5.2"/><circle class="n b" cx="676.5" cy="45.5" r="5.2"/><circle class="n o" cx="721.5" cy="60.5" r="5.2"/>
<circle class="n o" cx="751.5" cy="60.5" r="5.2"/><circle class="n g" cx="871.5" cy="0.5" r="5.2"/><circle class="n r" cx="901.5" cy="15.5" r="5.2"/><circle class="n y" cx="961.5" cy="30.5" r="5.2"/>
<rect class="ov" x="631.5" y="-1" width="361.5" height="62"/>
<text class="l1" x="270" y="77">168</text><text class="l2" x="270" y="89.5">69636</text><text class="l3" x="270" y="102">25.00%</text>
<text class="l1" x="510" y="77">168</text><text class="l2" x="510" y="89.5">70644</text><text class="l3" x="510" y="102">25.00%</text>
<text class="l1" x="750" y="77">198</text><text class="l2" x="750" y="89.5">72552</text><text class="l3" x="750" y="102">18.73%</text>
<text class="l1" x="990" y="77">165</text><text class="l2" x="990" y="89.5">74532</text><text class="l3" x="990" y="102">6.23%</text>
</g>

<g id="row21" transform="translate(0,3298)">
<text class="mn" x="32" y="-6.5">81</text><text class="mn" x="272" y="-6.5">82</text>
<use xlink:href="#mg" x="31.5"/><use xlink:href="#mg" x="271.5"/>
<rect class="bd" x="31" y="0" width="481" height="61"/>
<rect class="y" x="31.5" y="27" width="45" height="7"/><rect class="y" x="91.5" y="27" width="45" height="7"/><rect class="y" x="151.5" y="27" width="45" height="7"/><rect class="y" x="211.5" y="27" width="45" height="7"/><rect class="y" x="271.5" y="27" width="120" height="7"/>
<circle class="n y" cx="31.5" cy="30.5" r="5.2"/><circle class="n y" cx="91.5" cy="30.5" r="5.2"/><circle class="n y" cx="151.5" cy="30.5" r="5.2"/><circle class="n y" cx="211.5" cy="30.5" r="5.2"/><circle class="n y" cx="271.5" cy="30.5" r="5.2"/>
<rect class="ov" x="30" y="-1" width="121.5" height="62"/>
<text class="l1" x="270" y="77">180</text><text class="l2" x="270" y="89.5">76368</text><text class="l3" x="270" y="102">0.00%</text>
<text class="l1" x="510" y="77">60</text><text class="l2" x="510" y="89.5">76728</text><text class="l3" x="510" y="102">0.00%</text>
</g>
</svg>
